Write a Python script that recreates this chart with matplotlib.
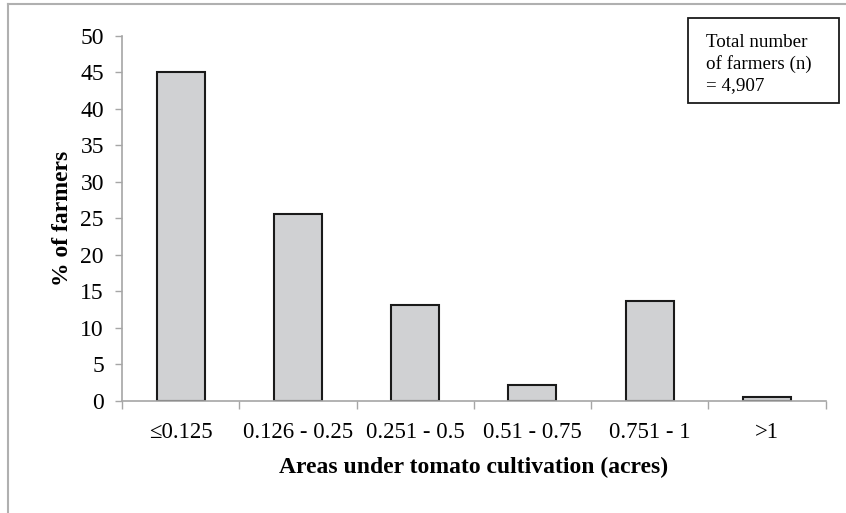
import matplotlib.pyplot as plt
import numpy as np
from matplotlib.lines import Line2D
from matplotlib.patches import Rectangle

plt.rcParams['font.family'] = ['Liberation Serif', 'DejaVu Serif']

# data
categories = ['≤0.125', '0.126 - 0.25', '0.251 - 0.5', '0.51 - 0.75', '0.751 - 1', '>1']
percent_farmers = [45.0, 25.6, 13.1, 2.2, 13.7, 0.5]
yticks = [0, 5, 10, 15, 20, 25, 30, 35, 40, 45, 50]

axis_grey = '#a6a6a6'

fig = plt.figure(figsize=(8.46, 5.13), dpi=100)
ax = fig.add_axes([0.1442, 0.2189, 0.8316, 0.7109])

x = np.arange(len(categories))
ax.bar(x, percent_farmers, width=0.41, color='#d0d1d3', edgecolor='#1a1a1a', linewidth=1.5)

ax.set_xlim(-0.5, len(categories) - 0.5)
ax.set_ylim(0, 50)
ax.set_yticks(yticks)
ax.tick_params(axis='y', direction='out', length=5, width=1, color=axis_grey,
               labelsize=17, pad=8)

# category labels without ticks, ticks on boundaries
ax.set_xticks(x)
ax.set_xticklabels(categories)
ax.tick_params(axis='x', which='major', length=0, labelsize=16.4, pad=15)
ax.set_xticks(np.arange(-0.5, len(categories)), minor=True)
ax.tick_params(axis='x', which='minor', direction='out', length=6, width=1, color=axis_grey)

for s in ['top', 'right']:
    ax.spines[s].set_visible(False)
for s in ['left', 'bottom']:
    ax.spines[s].set_color(axis_grey)
    ax.spines[s].set_linewidth(1.2)

ax.set_ylabel('% of farmers', fontsize=17, fontweight='bold', labelpad=5)
ax.set_xlabel('Areas under tomato cultivation (acres)', fontsize=17,
              fontweight='bold', labelpad=10)

# note box
fig.add_artist(Rectangle((688 / 846, 1 - 103 / 513), 151 / 846, 85 / 513,
                         transform=fig.transFigure, facecolor='white',
                         edgecolor='#1a1a1a', linewidth=1.3))
fig.text(706 / 846, 1 - 34 / 513, 'Total number\nof farmers (n)\n= 4,907', fontsize=13.7,
         va='top', ha='left', linespacing=1.3)

# outer frame lines (top and left)
fig.add_artist(Line2D([8 / 846, 1], [1 - 4 / 513, 1 - 4 / 513], transform=fig.transFigure,
                      color='#b0b0b0', linewidth=1.5))
fig.add_artist(Line2D([8 / 846, 8 / 846], [0, 1 - 4 / 513], transform=fig.transFigure,
                      color='#b0b0b0', linewidth=1.5))

fig.savefig('out.png', dpi=100)
